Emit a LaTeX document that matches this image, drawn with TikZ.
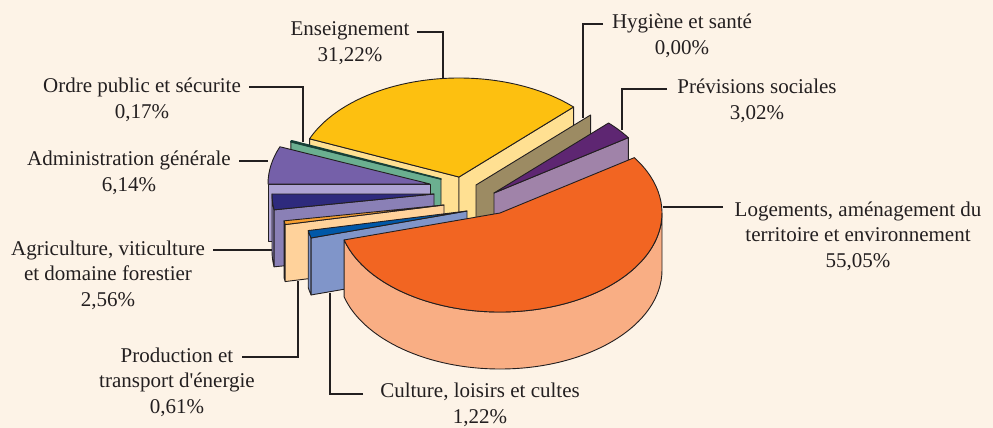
\documentclass[tikz,border=0pt]{standalone}
\usepackage{fontspec}
\setmainfont{Liberation Serif}
\definecolor{bg}{HTML}{FDF3E7}
\definecolor{edgec}{HTML}{231F20}
\definecolor{txt}{HTML}{231F20}
\definecolor{yel}{HTML}{FDC010}
\definecolor{yelf}{HTML}{FFE092}
\definecolor{khaki}{HTML}{9C8B63}
\definecolor{dpur}{HTML}{5E2672}
\definecolor{mauve}{HTML}{A083A9}
\definecolor{orng}{HTML}{F26522}
\definecolor{salmon}{HTML}{F9AE84}
\definecolor{grnf}{HTML}{6BAF90}
\definecolor{teal}{HTML}{1B4F43}
\definecolor{apur}{HTML}{7560A9}
\definecolor{lav}{HTML}{AEA3D3}
\definecolor{navy}{HTML}{2E2A7D}
\definecolor{gpur}{HTML}{8A80B6}
\definecolor{osl}{HTML}{F8A031}
\definecolor{peach}{HTML}{FFD29B}
\definecolor{bsl}{HTML}{0058A8}
\definecolor{lblue}{HTML}{8095C9}
\tikzset{
  edge/.style={draw=edgec, line width=0.9pt, line join=round},
  lbl/.style={align=center, font=\fontsize{21}{25.5}\selectfont, text=txt, inner sep=0pt},
  lead/.style={draw=txt, line width=1.2pt}
}
\newcommand\PieTop[4]{\filldraw[edge, fill=#4] (#1) -- ++(#2:162pt and 99pt) arc[start angle=#2, end angle=#3, x radius=162pt, y radius=99pt] -- cycle;}
\newcommand\PieFace[3]{\filldraw[edge, fill=#3] (#1) -- ++(0pt,-57pt) -- ++(#2:162pt and 99pt) -- ++(0pt,57pt) -- cycle;}
\newcommand\PieSide[4]{\filldraw[edge, fill=#4] (#1) ++(#2:162pt and 99pt) arc[start angle=#2, end angle=#3, x radius=162pt, y radius=99pt] -- ++(0pt,-57pt) arc[start angle=#3, end angle=#2, x radius=162pt, y radius=99pt] -- cycle;}
\begin{document}
\begin{tikzpicture}[x=1pt,y=-1pt]
\useasboundingbox (0,0) rectangle (993,428);
\fill[bg] (0,0) rectangle (993,428);
% apexes of the slices
\coordinate (cEns) at (459,177);
\coordinate (cHyg) at (476,185);
\coordinate (cPrev) at (494,193);
\coordinate (cOrd) at (441,179);
\coordinate (cAdm) at (430,184);
\coordinate (cAgr) at (434,194);
\coordinate (cPro) at (444,205);
\coordinate (cCul) at (467,211);
\coordinate (cLog) at (500,213);
% Enseignement
\PieFace{cEns}{157.3}{yelf}
\PieFace{cEns}{45}{yelf}
\PieTop{cEns}{45}{157.3}{yel}
% Hygiene et sante
\PieFace{cHyg}{45}{khaki}
% Previsions sociales
\PieFace{cPrev}{34}{mauve}
\PieTop{cPrev}{34}{45}{dpur}
% Ordre public
\PieFace{cOrd}{157.9}{grnf}
\filldraw[edge, fill=teal, line width=1.6pt, draw=teal!80!black] (cOrd) -- ++(157.3:162pt and 99pt) arc[start angle=157.3, end angle=157.9, x radius=162pt, y radius=99pt] -- cycle;
% Administration
\PieFace{cAdm}{180}{lav}
\PieTop{cAdm}{157.9}{180}{apur}
% Agriculture
\PieSide{cAgr}{180}{189.2}{gpur}
\PieFace{cAgr}{189.2}{gpur}
\PieTop{cAgr}{180}{189.2}{navy}
% Production
\PieSide{cPro}{189.2}{191.4}{peach}
\PieFace{cPro}{191.4}{peach}
\PieTop{cPro}{189.2}{191.4}{osl}
% Culture
\PieSide{cCul}{191.4}{195.8}{lblue}
\PieFace{cCul}{195.8}{lblue}
\PieTop{cCul}{191.4}{195.8}{bsl}
% Logements
\PieSide{cLog}{195.8}{360}{salmon}
\PieTop{cLog}{195.8}{394}{orng}
% labels
\node[lbl] (Lens) at (350,43) {Enseignement\\31,22\%};
\node[lbl] (Lhyg) at (682,36) {Hygiène et santé\\0,00\%};
\node[lbl] (Lprev) at (757,101) {Prévisions sociales\\3,02\%};
\node[lbl] (Llog) at (858,236) {Logements, aménagement du\\territoire et environnement\\55,05\%};
\node[lbl] (Lord) at (142,100) {Ordre public et sécurite\\0,17\%};
\node[lbl] (Ladm) at (129,173) {Administration générale\\6,14\%};
\node[lbl] (Lagr) at (108,275) {Agriculture, viticulture\\et domaine forestier\\2,56\%};
\node[lbl] (Lpro) at (177,382) {Production et\\transport d\textquotesingle énergie\\0,61\%};
\node[lbl] (Lcul) at (480,405) {Culture, loisirs et cultes\\1,22\%};
% leader ends
\coordinate (ensA) at (417,32);  \coordinate (ensB) at (443,78);
\coordinate (hygA) at (603,24);  \coordinate (hygB) at (583,118);
\coordinate (prevA) at (667,89); \coordinate (prevB) at (622,130);
\coordinate (logA) at (723,207); \coordinate (logB) at (663,207);
\coordinate (ordA) at (249,87);  \coordinate (ordB) at (303,142);
\coordinate (admA) at (239,161); \coordinate (admB) at (268,161);
\coordinate (agrA) at (213,250); \coordinate (agrB) at (272,250);
\coordinate (proA) at (242,357); \coordinate (proB) at (298,281);
\coordinate (culA) at (363,394); \coordinate (culB) at (330,293);
\draw[lead] (ensA) -| (ensB);
\draw[lead] (hygA) -| (hygB);
\draw[lead] (prevA) -| (prevB);
\draw[lead] (logA) -- (logB);
\draw[lead] (ordA) -| (ordB);
\draw[lead] (admA) -- (admB);
\draw[lead] (agrA) -- (agrB);
\draw[lead] (proA) -| (proB);
\draw[lead] (culA) -| (culB);
\end{tikzpicture}
\end{document}
